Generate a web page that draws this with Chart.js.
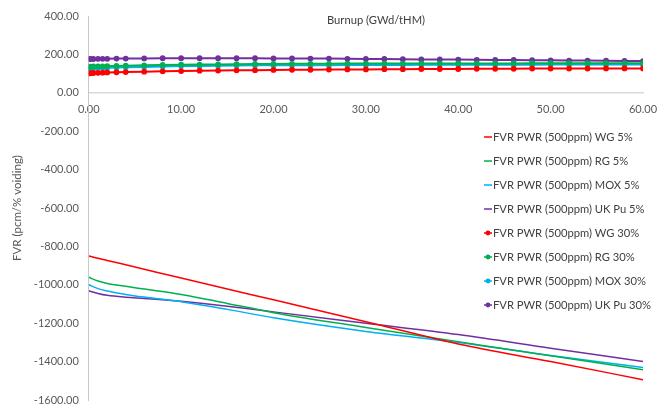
<!DOCTYPE html>
<html>
<head>
<meta charset="utf-8">
<script src="https://cdn.jsdelivr.net/npm/chart.js@4/dist/chart.umd.min.js"></script>
<style>
  html, body { margin: 0; padding: 0; background: #fff; }
  #cadre { width: 658px; height: 407px; }
</style>
</head>
<body>
<div id="cadre"><canvas id="myChartFvr"></canvas></div>
<script>
//? Données (burnup en GWd/tHM, FVR en pcm/% voiding).

const burnup5 = [0, 1, 2, 4, 6, 10, 15, 20, 30, 40, 50, 60];
const fvrWg5 = [-850, -862, -873, -896, -919, -965, -1022, -1078, -1192, -1308, -1400, -1494];
const fvrRg5 = [-961, -980, -993, -1008, -1022, -1050, -1097, -1145, -1222, -1296, -1370, -1442];
const fvrMox5 = [-1000, -1020, -1032, -1050, -1064, -1088, -1128, -1172, -1243, -1300, -1368, -1431];
const fvrUkPu5 = [-1031, -1045, -1055, -1065, -1071, -1086, -1112, -1141, -1200, -1259, -1330, -1400];

const burnup30 = [0, 0.2, 0.5, 1, 1.5, 2, 3, 4, 6, 8, 10, 12, 14, 16, 18, 20, 22, 24, 26, 28, 30, 32, 34, 36, 38, 40, 42, 44, 46, 48, 50, 52, 54, 56, 58, 60];
const fvrWg30 = [101, 102, 103, 104, 105, 106, 107, 108, 110, 112, 113, 115, 116, 117, 118, 119, 120, 120, 121, 122, 122, 123, 123, 124, 124, 124, 125, 125, 125, 126, 126, 126, 126, 127, 127, 127];
const fvrRg30 = [136, 136, 137, 138, 138, 139, 140, 141, 143, 145, 146, 147, 148, 149, 150, 150, 151, 151, 151, 152, 152, 152, 152, 153, 153, 153, 153, 153, 153, 154, 154, 154, 154, 154, 154, 154];
const fvrMox30 = [126, 127, 128, 129, 130, 131, 132, 133, 135, 137, 139, 140, 141, 142, 143, 143, 144, 144, 144, 145, 145, 145, 145, 146, 146, 146, 146, 146, 146, 146, 147, 147, 147, 147, 147, 147];
const fvrUkPu30 = [176, 176, 176, 177, 177, 177, 178, 178, 179, 180, 180, 180, 180, 180, 180, 179, 179, 178, 178, 177, 176, 176, 175, 174, 174, 173, 172, 171, 171, 170, 169, 168, 168, 167, 166, 165];

const libelles = [
  "FVR PWR (500ppm) WG 5%",
  "FVR PWR (500ppm) RG 5%",
  "FVR PWR (500ppm) MOX 5%",
  "FVR PWR (500ppm) UK Pu 5%",
  "FVR PWR (500ppm) WG 30%",
  "FVR PWR (500ppm) RG 30%",
  "FVR PWR (500ppm) MOX 30%",
  "FVR PWR (500ppm) UK Pu 30%",
];

const couleurs = ["#ff0000", "#00b050", "#00b0f0", "#7030a0"];

const policeTexte = "Lato, 'Liberation Sans', sans-serif";

//? -------------------------------------------------

//? Mise en forme des points {x, y}.

const versPoints = (xs, ys) => xs.map((x, i) => ({ x, y: ys[i] }));

const courbe5 = (i, ys) => ({
  label: libelles[i],
  data: versPoints(burnup5, ys),
  borderColor: couleurs[i],
  backgroundColor: couleurs[i],
  borderWidth: 1.5,
  pointRadius: 0,
  cubicInterpolationMode: "monotone",
});

const courbe30 = (i, ys) => ({
  label: libelles[i + 4],
  data: versPoints(burnup30, ys),
  borderColor: couleurs[i],
  backgroundColor: couleurs[i],
  borderWidth: 2,
  pointRadius: 2.9,
  pointBorderWidth: 0,
  pointStyle: "circle",
});

//? -------------------------------------------------

//? Légende dessinée dans la zone du graphique + titre "Burnup".

const legendeInterne = {
  id: "legendeInterne",
  afterDraw(chart, args, opts) {
    const ctx = chart.ctx;
    ctx.save();
    ctx.font = opts.font;
    ctx.textBaseline = "middle";
    ctx.textAlign = "left";
    chart.data.datasets.forEach((ds, i) => {
      const y = opts.y + i * opts.ecart;
      ctx.strokeStyle = ds.borderColor;
      ctx.lineWidth = 1.5;
      ctx.beginPath();
      ctx.moveTo(opts.x, y);
      ctx.lineTo(opts.x + 8, y);
      ctx.stroke();
      if (ds.pointRadius > 0) {
        ctx.fillStyle = ds.borderColor;
        ctx.beginPath();
        ctx.arc(opts.x + 4, y, 2.4, 0, Math.PI * 2);
        ctx.fill();
      }
      ctx.fillStyle = opts.couleur;
      ctx.fillText(ds.label, opts.x + 9, y);
    });
    ctx.fillText("Burnup (GWd/tHM)", opts.titreX, opts.titreY);
    ctx.restore();
  },
};

//? -------------------------------------------------

//? Construction du graphique.

let constructionDuGraphique = () => {
  try {
    const ctxFvr = document.getElementById("myChartFvr").getContext("2d");

    const data = {
      datasets: [
        courbe5(0, fvrWg5),
        courbe5(1, fvrRg5),
        courbe5(2, fvrMox5),
        courbe5(3, fvrUkPu5),
        courbe30(0, fvrWg30),
        courbe30(1, fvrRg30),
        courbe30(2, fvrMox30),
        courbe30(3, fvrUkPu30),
      ],
    };

    const options = {
      responsive: true,
      maintainAspectRatio: false,
      animation: { duration: 0 },
      layout: { padding: { left: 10, top: 16, right: 15, bottom: 7 } },
      plugins: {
        legend: { display: false },
        tooltip: { enabled: false },
        legendeInterne: {
          x: 484,
          y: 137,
          ecart: 24,
          font: "11.2px " + policeTexte,
          couleur: "#404040",
          titreX: 327,
          titreY: 20,
        },
      },
      scales: {
        x: {
          type: "linear",
          position: { y: 0 },
          min: 0,
          max: 60,
          grid: { display: false, drawTicks: false },
          border: { display: true, color: "#d9d9d9", width: 1.5 },
          ticks: {
            stepSize: 10,
            padding: 10,
            color: "#595959",
            font: { family: policeTexte, size: 11 },
            callback: (v) => v.toFixed(2),
          },
          afterFit: (s) => {
            s.paddingLeft = 0;
            s.paddingRight = 0;
          },
        },
        y: {
          min: -1600,
          max: 400,
          grid: { display: false, drawTicks: false },
          border: { display: true, color: "#c8c8c8", width: 1 },
          title: {
            display: true,
            text: "FVR (pcm/% voiding)",
            color: "#595959",
            font: { family: policeTexte, size: 11.5 },
            padding: { top: 0, bottom: 0 },
          },
          ticks: {
            stepSize: 200,
            padding: 10,
            color: "#595959",
            font: { family: policeTexte, size: 11 },
            callback: (v) => v.toFixed(2),
          },
          afterFit: (s) => {
            s.paddingTop = 0;
            s.paddingBottom = 0;
          },
        },
      },
    };

    new Chart(ctxFvr, { type: "line", data, options, plugins: [legendeInterne] });
  } catch (error) {
    console.log("🔴 ERREUR | Construction graphique FVR :", error);
  }
};

constructionDuGraphique();
</script>
</body>
</html>
